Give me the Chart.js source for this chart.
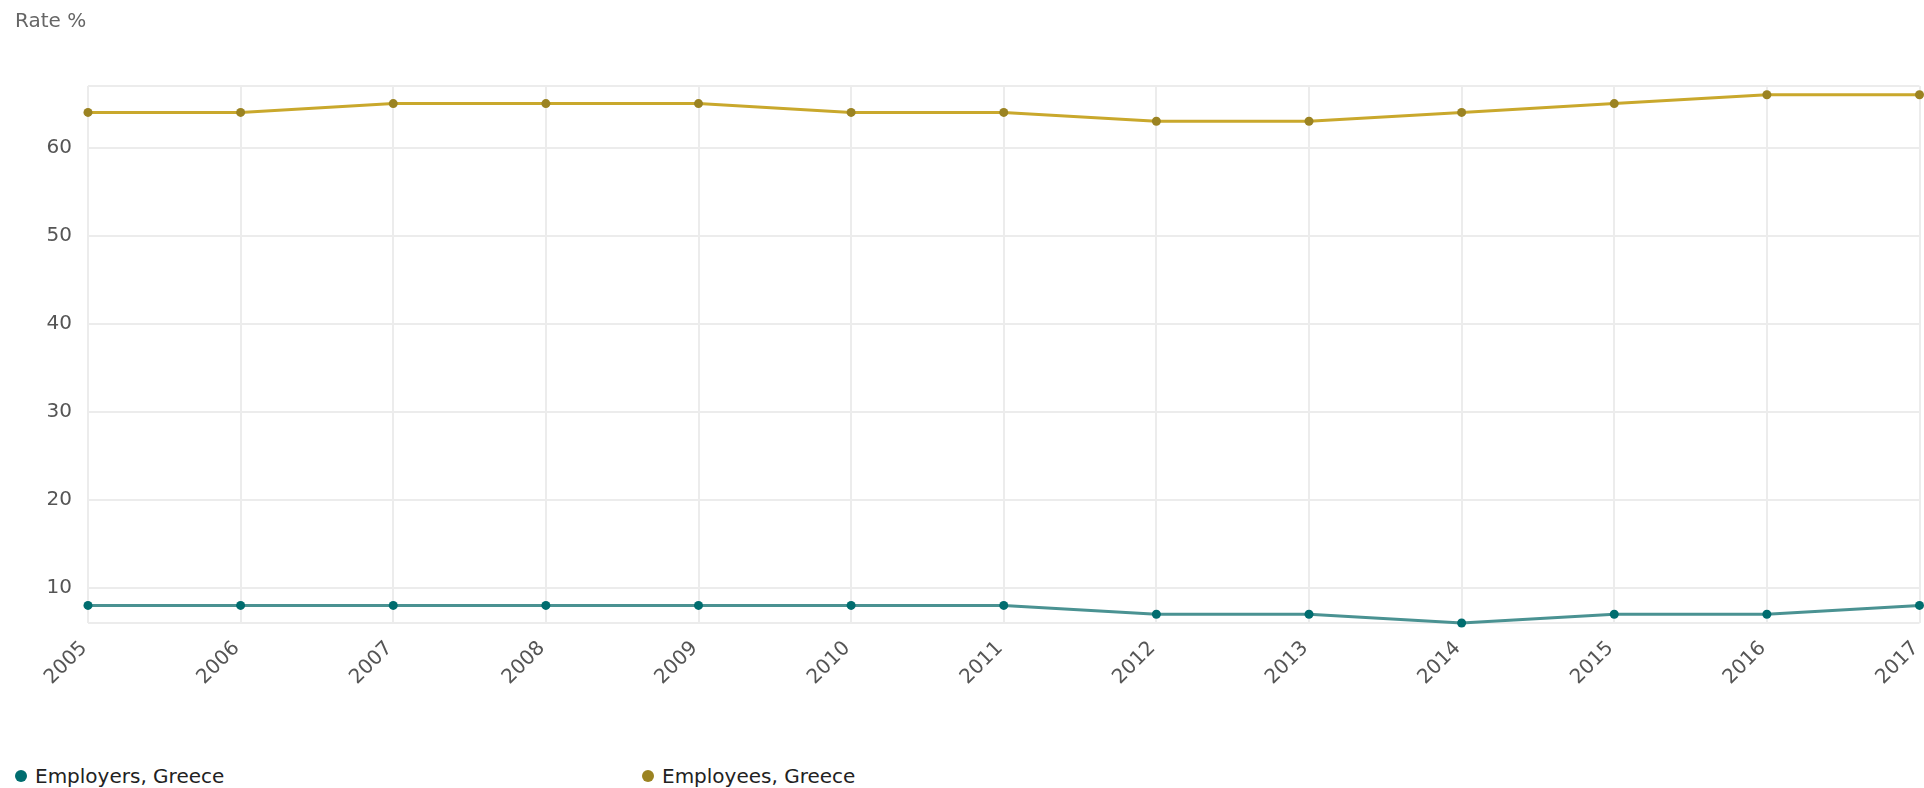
<!DOCTYPE html>
<html>
<head>
<meta charset="utf-8">
<script src="https://cdn.jsdelivr.net/npm/chart.js@4"></script>
<style>
  body { margin: 0; background: #fff; overflow: hidden; }
  #wrap { position: relative; width: 1924px; height: 788px; }
  #box { position: absolute; left: 0; top: 0; width: 1924px; height: 700px; }
  #legend { position: absolute; left: 15px; top: 764px; display: flex; font-family: "DejaVu Sans", sans-serif; font-size: 20px; color: #222; }
  .item { display: flex; align-items: center; width: 627px; }
  .dot { width: 12px; height: 12px; border-radius: 50%; margin-right: 8px; }
</style>
</head>
<body>
<div id="wrap">
  <div id="box"><canvas id="grafico"></canvas></div>
  <div id="legend"></div>
</div>
<script>
const anios = ["2005", "2006", "2007", "2008", "2009", "2010", "2011", "2012", "2013", "2014", "2015", "2016", "2017"];
const empleadores = [8, 8, 8, 8, 8, 8, 8, 7, 7, 6, 7, 7, 8];
const empleados = [64, 64, 65, 65, 65, 64, 64, 63, 63, 64, 65, 66, 66];
const nombres = ["Employers, Greece", "Employees, Greece"];
const lineas = ["#4a9292", "#c9a82c"];
const puntos = ["#006d6f", "#9b8322"];

const series = [empleadores, empleados].map((valores, i) => ({
  label: nombres[i],
  data: valores,
  borderColor: lineas[i],
  backgroundColor: puntos[i],
  pointBackgroundColor: puntos[i],
  pointBorderWidth: 0,
  pointRadius: 4.5,
  borderWidth: 3,
  tension: 0,
  clip: false
}));

const legend = document.getElementById("legend");
series.forEach(s => {
  const item = document.createElement("div");
  item.className = "item";
  item.innerHTML = `<span class="dot" style="background:${s.pointBackgroundColor}"></span><span>${s.label}</span>`;
  legend.appendChild(item);
});

// etiquetas del eje x giradas 45°, ancladas en cada marca del eje
const etiquetasX = {
  id: "etiquetasX",
  afterDraw(chart) {
    const { ctx, chartArea, scales } = chart;
    const x = scales.x;
    ctx.save();
    ctx.font = '20px "DejaVu Sans"';
    ctx.fillStyle = "#555";
    ctx.textAlign = "right";
    ctx.textBaseline = "middle";
    x.ticks.forEach((t, i) => {
      ctx.save();
      ctx.translate(x.getPixelForTick(i) - 4, chartArea.bottom + 22);
      ctx.rotate(-Math.PI / 4);
      ctx.fillText(anios[t.value], 0, 0);
      ctx.restore();
    });
    ctx.restore();
  }
};

new Chart(document.getElementById("grafico"), {
  type: "line",
  data: { labels: anios, datasets: series },
  plugins: [etiquetasX],
  options: {
    responsive: true,
    maintainAspectRatio: false,
    animation: false,
    layout: { padding: { left: 15, right: 2, top: 0, bottom: 0 } },
    plugins: {
      legend: { display: false },
      tooltip: { enabled: false },
      title: {
        display: true,
        text: "Rate %",
        align: "start",
        color: "#666",
        font: { family: "DejaVu Sans", size: 20, weight: "normal" },
        padding: { top: 10, bottom: 52 }
      }
    },
    scales: {
      x: {
        offset: false,
        grid: { color: "#ececec", lineWidth: 2, drawTicks: false },
        border: { display: false },
        ticks: { display: false },
        afterFit: s => { s.height = 77; s.paddingLeft = 0; s.paddingRight = 0; }
      },
      y: {
        min: 6,
        max: 67,
        grid: { color: "#ececec", lineWidth: 2, drawTicks: false },
        border: { display: false },
        ticks: {
          stepSize: 10,
          color: "#555",
          padding: 16,
          font: { family: "DejaVu Sans", size: 20 },
          callback: v => (v % 10 === 0 ? v : "")
        },
        afterFit: s => { s.width = 73; s.paddingTop = 0; s.paddingBottom = 0; }
      }
    }
  }
});
</script>
</body>
</html>
